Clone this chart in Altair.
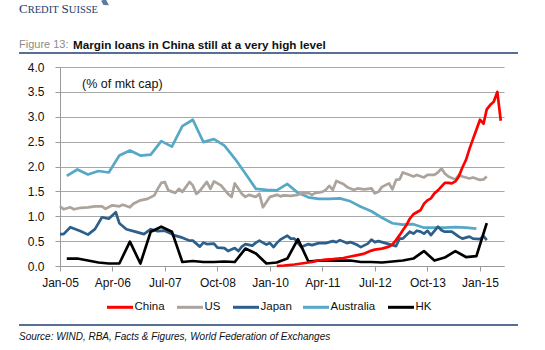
import altair as alt
import pandas as pd

# ---------------- data (month index: 0 = Jan-2005) ----------------
series_names = ["China", "US", "Japan", "Australia", "HK"]
series_colors = ["#ff0000", "#aba39c", "#2d5f8b", "#55a8c6", "#000000"]

china_months = [62, 64, 67, 70, 72, 74, 76, 78, 81, 83, 85, 87, 89, 90, 92, 94, 95,
                96, 97, 98, 99, 100, 101, 102, 103, 104, 105, 106, 107, 108, 109, 110,
                111, 112, 113, 114, 115, 116, 117, 118, 119, 120, 121, 122, 123, 124, 125, 126]
china_values = [0.00, 0.01, 0.03, 0.06, 0.08, 0.11, 0.13, 0.14, 0.16, 0.19, 0.22, 0.25, 0.31, 0.33, 0.35, 0.39, 0.43,
                0.52, 0.62, 0.72, 0.82, 0.95, 1.04, 1.08, 1.12, 1.25, 1.32, 1.36, 1.46, 1.52, 1.60, 1.67,
                1.67, 1.66, 1.70, 1.80, 1.98, 2.13, 2.35, 2.55, 2.74, 2.94, 2.86, 3.15, 3.24, 3.30, 3.50, 2.92]

us_months = [0, 1, 3, 4, 6, 8, 10, 12, 13, 15, 17, 18, 20, 21, 23, 25, 27, 28, 29, 30,
             31, 33, 34, 35, 37, 38, 39, 40, 42, 43, 44, 46, 48, 49, 50, 52, 53, 54, 56, 57,
             58, 60, 61, 62, 63, 64, 66, 68, 69, 71, 72, 73, 75, 76, 77, 78, 79, 81, 82, 84,
             85, 87, 89, 90, 91, 92, 94, 95, 96, 97, 98, 100, 101, 102, 104, 105, 107, 108, 109, 110,
             111, 113, 114, 115, 117, 118, 120, 121, 122]
us_values = [1.20, 1.14, 1.18, 1.14, 1.17, 1.18, 1.20, 1.20, 1.15, 1.22, 1.20, 1.23, 1.18, 1.25, 1.32, 1.35, 1.42, 1.55, 1.67, 1.69,
             1.52, 1.47, 1.55, 1.49, 1.69, 1.62, 1.45, 1.51, 1.69, 1.55, 1.70, 1.62, 1.45, 1.39, 1.66, 1.45, 1.39, 1.43, 1.39, 1.45,
             1.18, 1.39, 1.41, 1.43, 1.40, 1.42, 1.41, 1.43, 1.46, 1.47, 1.43, 1.47, 1.49, 1.53, 1.61, 1.53, 1.71, 1.65, 1.59, 1.53,
             1.56, 1.54, 1.56, 1.46, 1.49, 1.59, 1.66, 1.54, 1.73, 1.74, 1.88, 1.83, 1.80, 1.83, 1.78, 1.83, 1.83, 1.88, 1.96, 1.86,
             1.80, 1.74, 1.83, 1.80, 1.76, 1.78, 1.73, 1.74, 1.80]

japan_months = [0, 1, 3, 6, 8, 10, 12, 14, 16, 17, 19, 22, 24, 26, 28, 30, 32, 33, 35, 37,
                38, 40, 41, 42, 44, 45, 47, 48, 50, 51, 52, 53, 55, 56, 57, 59, 60, 61, 62, 63,
                65, 66, 67, 69, 71, 72, 74, 76, 78, 79, 80, 82, 83, 85, 86, 88, 89, 90, 91, 93,
                95, 96, 97, 98, 100, 101, 102, 103, 104, 105, 106, 108, 109, 110, 112, 114, 115, 117, 118, 120,
                121, 122]
japan_values = [0.64, 0.64, 0.78, 0.70, 0.63, 0.74, 0.98, 0.95, 1.08, 0.86, 0.74, 0.68, 0.64, 0.74, 0.70, 0.71, 0.64, 0.61, 0.57, 0.51,
                0.51, 0.39, 0.47, 0.44, 0.45, 0.37, 0.36, 0.30, 0.36, 0.30, 0.39, 0.44, 0.41, 0.47, 0.51, 0.43, 0.46, 0.38, 0.46, 0.53,
                0.61, 0.55, 0.55, 0.38, 0.44, 0.42, 0.46, 0.46, 0.50, 0.48, 0.52, 0.46, 0.48, 0.42, 0.38, 0.45, 0.53, 0.48, 0.50, 0.46,
                0.42, 0.40, 0.55, 0.55, 0.69, 0.65, 0.71, 0.69, 0.65, 0.71, 0.62, 0.79, 0.72, 0.69, 0.69, 0.59, 0.55, 0.59, 0.55, 0.54,
                0.60, 0.52]

australia_months = [2, 5, 8, 11, 14, 17, 20, 23, 26, 29, 32, 35, 38, 41, 44, 47, 50, 53, 56, 59,
                    62, 65, 68, 71, 74, 77, 80, 83, 86, 89, 92, 95, 98, 101, 104, 107, 110, 113, 116, 119]
australia_values = [1.81, 1.94, 1.84, 1.91, 1.88, 2.22, 2.32, 2.22, 2.24, 2.51, 2.40, 2.81, 2.94, 2.49, 2.55, 2.42, 2.16, 1.86, 1.55, 1.53,
                    1.52, 1.65, 1.47, 1.38, 1.35, 1.35, 1.36, 1.30, 1.19, 1.10, 0.97, 0.86, 0.83, 0.84, 0.77, 0.77, 0.77, 0.78, 0.77, 0.75]

hk_months = [2, 5, 8, 11, 14, 17, 20, 23, 26, 29, 32, 35, 38, 41, 44, 47, 50, 53, 56, 59,
             62, 65, 68, 71, 74, 77, 80, 83, 86, 89, 92, 95, 98, 101, 104, 107, 110, 113, 116, 119, 122]
hk_values = [0.15, 0.15, 0.11, 0.07, 0.05, 0.05, 0.49, 0.05, 0.69, 0.79, 0.69, 0.08, 0.10, 0.08, 0.08, 0.09, 0.08, 0.35, 0.25, 0.05,
             0.07, 0.15, 0.54, 0.09, 0.11, 0.11, 0.11, 0.11, 0.08, 0.08, 0.07, 0.09, 0.11, 0.15, 0.30, 0.11, 0.17, 0.30, 0.18, 0.20, 0.86]

tick_labels = [(2005, 1), (2006, 4), (2007, 7), (2008, 10), (2010, 1), (2011, 4), (2012, 7), (2013, 10), (2015, 1)]
y_ticks = [0, 0.5, 1.0, 1.5, 2.0, 2.5, 3.0, 3.5, 4.0]

title_prefix = "Figure 13:"
title_main = "Margin loans in China still at a very high level"
unit_note = "(% of mkt cap)"
source_note = "Source: WIND, RBA, Facts & Figures, World Federation of Exchanges"


def month_to_date(m):
    return f"{2005 + m // 12}-{m % 12 + 1:02d}-01"


rows = []
for name, months, values in [("China", china_months, china_values), ("US", us_months, us_values),
                             ("Japan", japan_months, japan_values), ("Australia", australia_months, australia_values),
                             ("HK", hk_months, hk_values)]:
    for m, v in zip(months, values):
        rows.append({"date": month_to_date(m), "value": v, "series": name})
df = pd.DataFrame(rows)

FONT = "Liberation Sans"

x_enc = alt.X(
    "date:T",
    scale=alt.Scale(type="utc", domain=[alt.DateTime(year=2005, month=1, date=1, utc=True),
                                        alt.DateTime(year=2015, month=7, date=29, utc=True)]),
    axis=alt.Axis(values=[alt.DateTime(year=y, month=mo, date=1, utc=True) for y, mo in tick_labels],
                  format="%b-%y", grid=False, tickSize=5, labelPadding=6, labelFlush=False,
                  labelOverlap=False, domainColor="#9a9a9a", tickColor="#9a9a9a", labelColor="#111111",
                  labelFont=FONT, labelFontSize=12, title=None),
)
y_enc = alt.Y(
    "value:Q",
    scale=alt.Scale(domain=[0, 4], nice=False),
    axis=alt.Axis(values=y_ticks, format=".1f", grid=True, gridColor="#a8a8a8", gridWidth=1.2,
                  tickSize=5, labelPadding=11, labelFlush=False, domainColor="#9a9a9a", tickColor="#9a9a9a",
                  labelColor="#111111", labelFont=FONT, labelFontSize=12, title=None),
)
color_enc = alt.Color("series:N", scale=alt.Scale(domain=series_names, range=series_colors), legend=None)

base = alt.Chart(df).mark_line(strokeWidth=2.7, strokeJoin="round").encode(x=x_enc, y=y_enc, color=color_enc)
draw_order = ["Australia", "US", "Japan", "HK", "China"]
line_layers = [base.transform_filter(alt.datum.series == s) for s in draw_order]

one = pd.DataFrame({"a": [0]})


def text_layer(txt, x, y, size, color="#111111", weight="normal", style="normal", font=FONT, baseline="middle"):
    return alt.Chart(pd.DataFrame({"t": [txt]})).mark_text(
        align="left", baseline=baseline, font=font, fontSize=size, color=color,
        fontWeight=weight, fontStyle=style).encode(x=alt.value(x), y=alt.value(y), text="t:N")


# legend (drawn as key line + label, in series order)
legend_key_left = [47, 117, 173, 243, 328]
legend_y = 240.3
legend_layers = []
for name, col, lx in zip(series_names, series_colors, legend_key_left):
    legend_layers.append(alt.Chart(one).mark_rule(color=col, strokeWidth=3).encode(
        x=alt.value(lx), x2=alt.value(lx + 26), y=alt.value(legend_y)))
    legend_layers.append(text_layer(name, lx + 27.5, legend_y, 11.5, "#111111"))

logo_color = "#1d3c6a"
serif = "Liberation Serif"
logo = [
    text_layer("C", -41, -54.5, 13, logo_color, font=serif, baseline="alphabetic"),
    text_layer("REDIT", -32.3, -54.5, 10.5, logo_color, font=serif, baseline="alphabetic"),
    text_layer("S", 1.6, -54.5, 13, logo_color, font=serif, baseline="alphabetic"),
    text_layer("UISSE", 8.8, -54.5, 10.5, logo_color, font=serif, baseline="alphabetic"),
]
sail = alt.Chart(one).mark_point(shape="M-1,-0.6 L0.2,-1 L1,0.6 L-0.4,0.5 Z", filled=True, color="#5a7ca3",
                                 size=60, opacity=1).encode(x=alt.value(45), y=alt.value(-64))

title_parts = [
    text_layer(title_prefix, -41, -22, 11, "#8c8c8c"),
    text_layer(title_main, 13, -22, 11.7, "#111111", weight="bold"),
]
rule_top = alt.Chart(one).mark_rule(color="#1f3f6e", strokeWidth=1.5).encode(
    x=alt.value(-41), x2=alt.value(458), y=alt.value(-14))
rule_bottom = alt.Chart(one).mark_rule(color="#1f3f6e", strokeWidth=1.5).encode(
    x=alt.value(-41), x2=alt.value(458), y=alt.value(258))
unit = text_layer(unit_note, 22, 16.5, 12.5, "#111111")
source = text_layer(source_note, -41, 270, 10, "#111111", style="italic")

chart = alt.layer(
    *line_layers, unit, *legend_layers, *logo, sail, *title_parts, rule_top, rule_bottom, source
).properties(
    width=444, height=199,
    padding={"left": 60, "top": 67, "right": 41, "bottom": 84},
    autosize=alt.AutoSizeParams(type="none"),
    background="white",
).configure_view(stroke=None)

chart.save("out.html", embed_options={"renderer": "svg", "actions": False})
